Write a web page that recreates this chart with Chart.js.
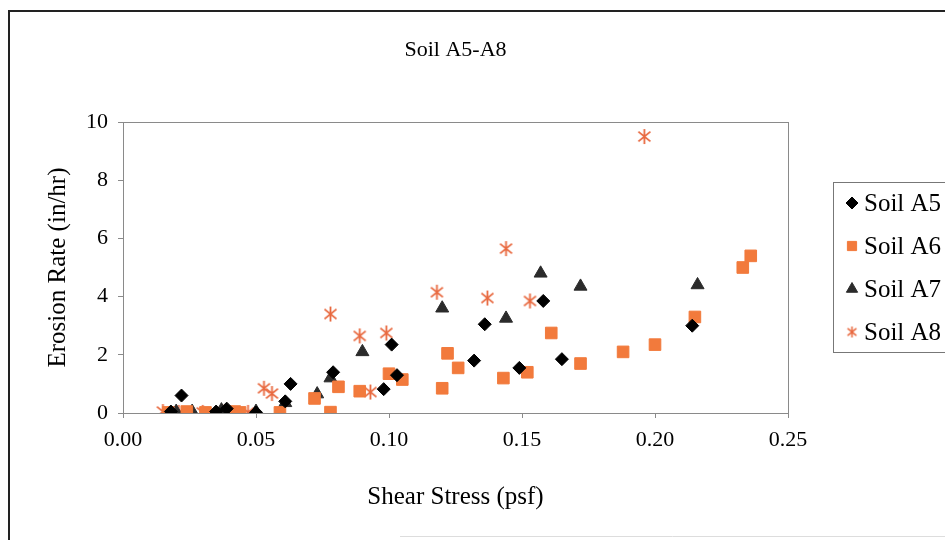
<!DOCTYPE html>
<html>
<head>
<meta charset="utf-8">
<script src="https://cdn.jsdelivr.net/npm/chart.js@4.4.1/dist/chart.umd.min.js"></script>
<style>
  html, body { margin: 0; padding: 0; background: #fff; }
  #wrap { width: 945px; height: 540px; }
</style>
</head>
<body>
<div id="wrap"><canvas id="soilChart" width="945" height="540"></canvas></div>
<script>
// shear stress (psf) / erosion rate (in/hr)
var a5X = [0.018, 0.022, 0.035, 0.039, 0.050, 0.061, 0.063, 0.079, 0.098, 0.101, 0.103, 0.132, 0.136, 0.149, 0.158, 0.165, 0.214];
var a5Y = [0.05, 0.60, 0.05, 0.15, 0.02, 0.40, 1.00, 1.40, 0.82, 2.35, 1.30, 1.80, 3.05, 1.55, 3.85, 1.85, 3.00];

var a6X = [0.017, 0.024, 0.031, 0.042, 0.044, 0.059, 0.072, 0.078, 0.081, 0.089, 0.100, 0.105, 0.120, 0.122, 0.126, 0.143, 0.152, 0.161, 0.172, 0.188, 0.200, 0.215, 0.233, 0.236];
var a6Y = [0.02, 0.05, 0.02, 0.05, 0.02, 0.02, 0.50, 0.03, 0.90, 0.75, 1.35, 1.15, 0.85, 2.05, 1.55, 1.20, 1.40, 2.75, 1.70, 2.10, 2.35, 3.30, 5.00, 5.40];

var a7X = [0.020, 0.026, 0.037, 0.050, 0.061, 0.073, 0.078, 0.090, 0.120, 0.144, 0.157, 0.172, 0.216];
var a7Y = [0.05, 0.05, 0.10, 0.05, 0.35, 0.65, 1.20, 2.10, 3.60, 3.25, 4.80, 4.35, 4.40];

var a8X = [0.015, 0.021, 0.030, 0.038, 0.047, 0.053, 0.056, 0.078, 0.089, 0.093, 0.099, 0.118, 0.137, 0.144, 0.153, 0.196];
var a8Y = [0.05, 0.02, 0.02, 0.03, 0.02, 0.85, 0.67, 3.40, 2.65, 0.72, 2.75, 4.15, 3.95, 5.65, 3.85, 9.50];

var seriesNames = ['Soil A5', 'Soil A6', 'Soil A7', 'Soil A8'];
var xTicks = [0, 0.05, 0.10, 0.15, 0.20, 0.25];
var yTicks = [0, 2, 4, 6, 8, 10];

var serif = '"Liberation Serif", "Times New Roman", serif';

function pairs(xs, ys) {
    return xs.map(function (x, i) { return { x: x, y: ys[i] }; });
}

// excel style asterisk marker
function makeStar(size, color, lw) {
    var c = document.createElement('canvas');
    c.width = size; c.height = size;
    var g = c.getContext('2d');
    var m = size / 2, r = size / 2 - 1;
    g.strokeStyle = color;
    g.lineWidth = lw;
    g.beginPath();
    g.moveTo(m - r * 0.8, m - r * 0.65); g.lineTo(m + r * 0.8, m + r * 0.65);
    g.moveTo(m + r * 0.8, m - r * 0.65); g.lineTo(m - r * 0.8, m + r * 0.65);
    g.moveTo(m, m - r); g.lineTo(m, m + r);
    g.stroke();
    return c;
}

var starBig = makeStar(17, '#e8683e', 1.8);
var starSmall = makeStar(13, '#e8683e', 1.5);

var frame = {
    id: 'frame',
    beforeDraw: function (chart) {
        var ctx = chart.ctx;
        ctx.save();
        ctx.strokeStyle = '#222';
        ctx.lineWidth = 2;
        ctx.beginPath();
        ctx.moveTo(9, 540);
        ctx.lineTo(9, 11);
        ctx.lineTo(945, 11);
        ctx.stroke();
        ctx.strokeStyle = '#ddd';
        ctx.lineWidth = 1;
        ctx.beginPath();
        ctx.moveTo(400, 536.5);
        ctx.lineTo(945, 536.5);
        ctx.stroke();
        ctx.restore();
    },
    afterDraw: function (chart) {
        var a = chart.chartArea, ctx = chart.ctx;
        ctx.save();
        ctx.strokeStyle = '#8a8a8a';
        ctx.lineWidth = 1;
        ctx.strokeRect(a.left + 0.5, a.top + 0.5, a.right - a.left, a.bottom - a.top);

        // legend box
        var lx = 833, ly = 182, rowH = 43;
        ctx.strokeStyle = '#777';
        ctx.strokeRect(lx + 0.5, ly + 0.5, 130, 170);
        ctx.font = '25px ' + serif;
        ctx.textBaseline = 'middle';
        var styles = [
            { pointStyle: 'rectRot', radius: 6, fill: '#000' },
            { pointStyle: 'rect', radius: 6.5, fill: '#f27a3c' },
            { pointStyle: 'triangle', radius: 6.5, fill: '#2b2b2b' },
            { pointStyle: starSmall, radius: 6, fill: '#e8683e' }
        ];
        for (var i = 0; i < 4; i++) {
            var cy = ly + 21 + i * rowH;
            ctx.fillStyle = styles[i].fill;
            ctx.strokeStyle = styles[i].fill;
            Chart.helpers.drawPoint(ctx, { pointStyle: styles[i].pointStyle, radius: styles[i].radius, rotation: 0, borderWidth: 1 }, lx + 19, cy);
            ctx.fillStyle = '#000';
            ctx.fillText(seriesNames[i], lx + 31, cy + 1);
        }
        ctx.restore();
    }
};

var ctx = document.getElementById('soilChart').getContext('2d');
var soilChart = new Chart(ctx, {
    type: 'scatter',
    data: {
        datasets: [{
            label: seriesNames[0],
            data: pairs(a5X, a5Y),
            pointStyle: 'rectRot',
            pointRadius: 6.5,
            backgroundColor: '#000',
            borderColor: '#000',
            borderWidth: 1
        }, {
            label: seriesNames[1],
            data: pairs(a6X, a6Y),
            pointStyle: 'rect',
            pointRadius: 8.2,
            backgroundColor: '#f27a3c',
            borderColor: '#f27a3c',
            borderWidth: 1
        }, {
            label: seriesNames[2],
            data: pairs(a7X, a7Y),
            pointStyle: 'triangle',
            pointRadius: 7.5,
            backgroundColor: '#2b2b2b',
            borderColor: '#2b2b2b',
            borderWidth: 1
        }, {
            label: seriesNames[3],
            data: pairs(a8X, a8Y),
            pointStyle: starBig,
            pointRadius: 8,
            backgroundColor: '#e8683e',
            borderColor: '#e8683e'
        }]
    },
    options: {
        responsive: false,
        animation: false,
        layout: { padding: { left: 20, right: 157, top: 0, bottom: 20 } },
        plugins: {
            legend: { display: false },
            tooltip: { enabled: false },
            title: {
                display: true,
                text: 'Soil A5-A8',
                fullSize: false,
                color: '#000',
                font: { family: serif, size: 22, weight: 'normal' },
                padding: { top: 36.8, bottom: 58.8 }
            }
        },
        scales: {
            x: {
                type: 'linear',
                min: 0,
                max: 0.25,
                afterBuildTicks: function (scale) {
                    scale.ticks = xTicks.map(function (v) { return { value: v }; });
                },
                afterFit: function (scale) { scale.height = 107; },
                ticks: {
                    color: '#000',
                    font: { family: serif, size: 22 },
                    padding: 9,
                    maxRotation: 0,
                    callback: function (v) { return v.toFixed(2); }
                },
                grid: { drawOnChartArea: false, drawTicks: true, tickLength: 5, color: '#8a8a8a' },
                border: { color: '#8a8a8a' },
                title: {
                    display: true,
                    text: 'Shear Stress (psf)',
                    color: '#000',
                    font: { family: serif, size: 25 },
                    padding: { top: 0, bottom: 8 }
                }
            },
            y: {
                min: 0,
                max: 10,
                afterBuildTicks: function (scale) {
                    scale.ticks = yTicks.map(function (v) { return { value: v }; });
                },
                afterFit: function (scale) { scale.width = 103; },
                ticks: {
                    color: '#000',
                    font: { family: serif, size: 22 },
                    padding: 10
                },
                grid: { drawOnChartArea: false, drawTicks: true, tickLength: 5, color: '#8a8a8a' },
                border: { color: '#8a8a8a' },
                title: {
                    display: true,
                    text: 'Erosion Rate (in/hr)',
                    color: '#000',
                    font: { family: serif, size: 25 },
                    padding: { top: 23, bottom: 0 }
                }
            }
        }
    },
    plugins: [frame]
});
</script>
</body>
</html>
